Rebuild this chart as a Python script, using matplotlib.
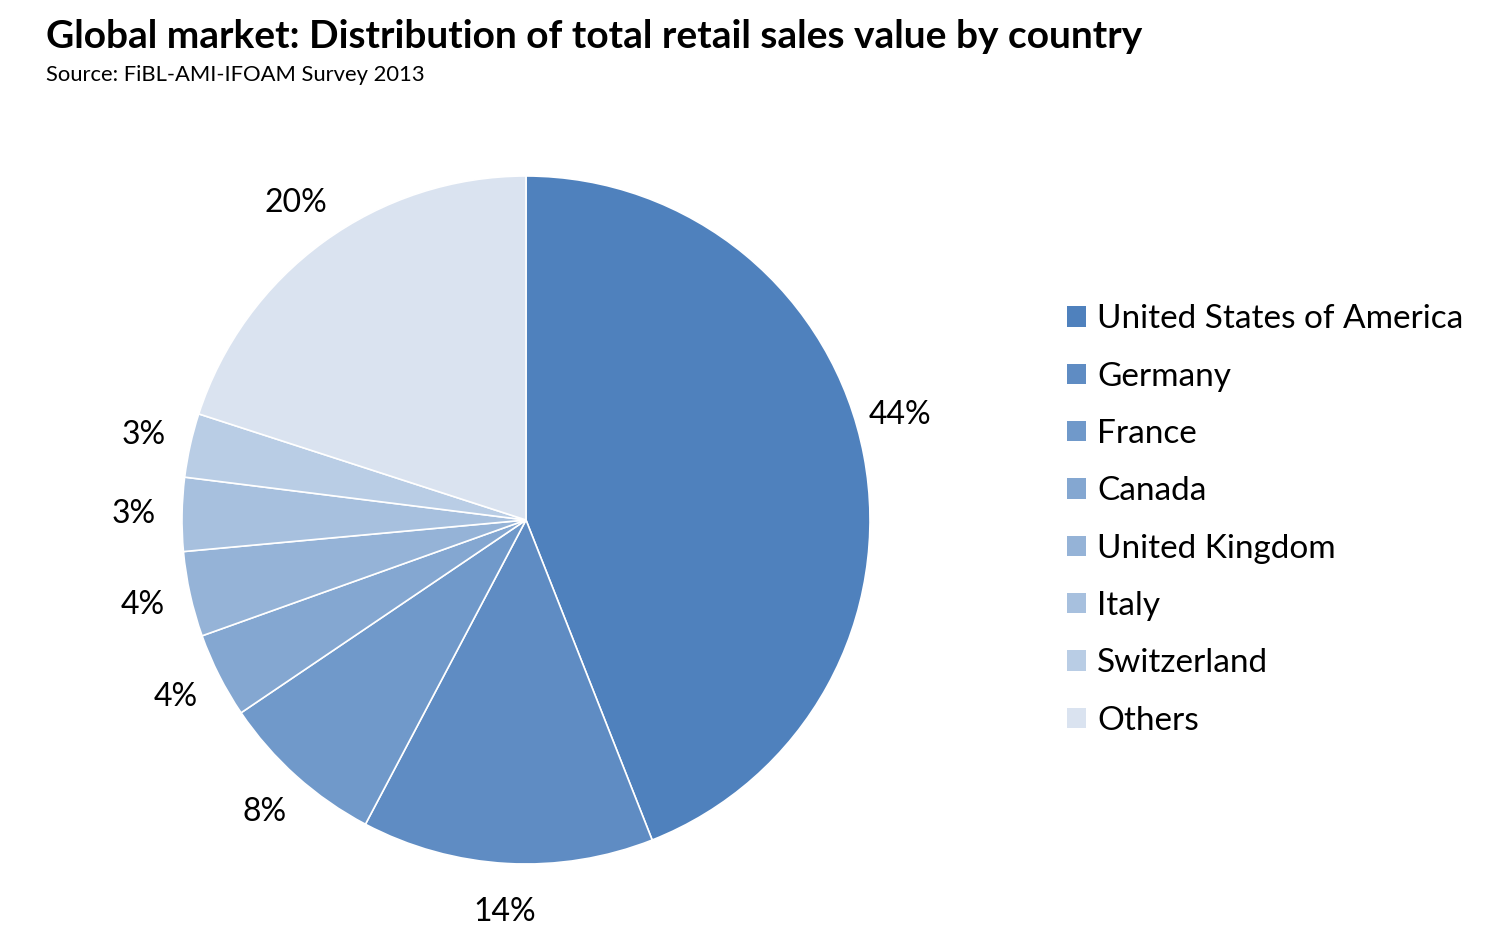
import matplotlib
matplotlib.use("Agg")
import matplotlib.pyplot as plt
import matplotlib.patches as mpatches
import numpy as np

countries = ["United States of America", "Germany", "France", "Canada",
             "United Kingdom", "Italy", "Switzerland", "Others"]
shares = [44.0, 13.7, 7.8, 4.0, 4.0, 3.45, 3.0, 20.0]
labels_pct = ["44%", "14%", "8%", "4%", "4%", "3%", "3%", "20%"]
colors = ["#4F81BD", "#5F8CC3", "#7099CA", "#84A7D1", "#95B3D7",
          "#A7C0DE", "#B9CDE5", "#DAE3F0"]

plt.rcParams['font.family'] = ['Lato', 'DejaVu Sans']

W, H = 1497, 940
fig = plt.figure(figsize=(W / 100, H / 100), dpi=100)

cx, cy, r = 526, 520, 344
ax = fig.add_axes([(cx - r) / W, (H - cy - r) / H, 2 * r / W, 2 * r / H])
wedges, texts = ax.pie(shares, colors=colors, startangle=90, counterclock=False,
                       radius=1.0, labels=labels_pct, labeldistance=1.14,
                       wedgeprops=dict(edgecolor="white", linewidth=1.2),
                       textprops=dict(fontsize=23, color="black"))
for t in texts:
    t.set_ha("center")
    t.set_va("center")
# best-fit style nudge of the large slice's label (shifted toward the top)
ang = np.deg2rad(15.7)
texts[0].set_position((1.13 * np.cos(ang), 1.13 * np.sin(ang)))
ax.set_xlim(-1, 1)
ax.set_ylim(-1, 1)
ax.set_aspect("equal")
ax.axis("off")

fig.text(46 / W, 1 - 36 / H, "Global market: Distribution of total retail sales value by country",
         fontsize=28, fontweight="bold", ha="left", va="center")
fig.text(46 / W, 1 - 75 / H, "Source: FiBL-AMI-IFOAM Survey 2013",
         fontsize=15.8, ha="left", va="center")

handles = [mpatches.Patch(facecolor=c, edgecolor="none") for c in colors]
fig.legend(handles, countries, loc="center left",
           bbox_to_anchor=(1054 / W, 1 - 520 / H), frameon=False,
           fontsize=24, handlelength=0.57, handleheight=0.57, handletextpad=0.33,
           labelspacing=0.82, borderaxespad=0)

fig.savefig("out.png", dpi=100, facecolor="white")
